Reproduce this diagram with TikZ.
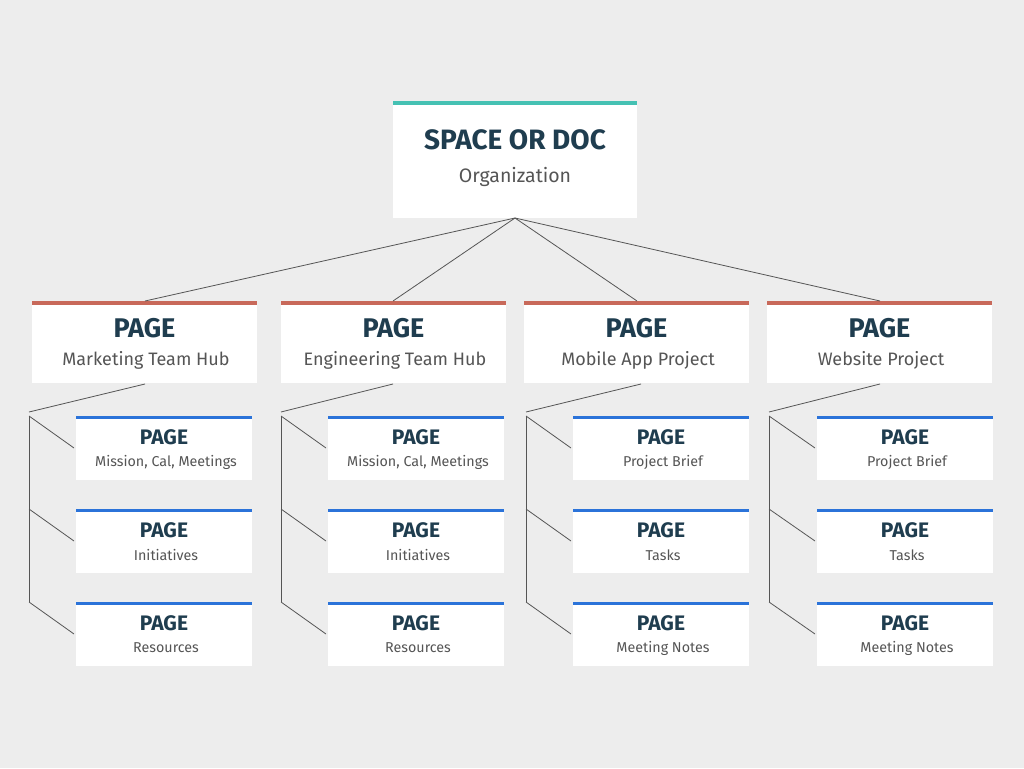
\documentclass[tikz,border=0pt]{standalone}
\usepackage{fontspec}
\setmainfont{Fira Sans}
\definecolor{bg}{HTML}{EDEDED}
\definecolor{teal}{HTML}{45C1B3}
\definecolor{redb}{HTML}{C8695A}
\definecolor{blueb}{HTML}{2B73D9}
\definecolor{ttl}{HTML}{1F3D4F}
\definecolor{sub}{HTML}{555555}
\definecolor{ln}{HTML}{555555}
\begin{document}
\begin{tikzpicture}[x=1pt,y=-1pt,
  conn/.style={draw=ln,line width=0.8pt},
  ttlt/.style={text=ttl,font=\bfseries},
  subt/.style={text=sub}]
\fill[bg] (0,0) rectangle (1024,768);
\useasboundingbox (0,0) rectangle (1024,768);
% top
\fill[white] (393,101) rectangle (637,218);
\fill[teal] (393,101) rectangle (637,105);
\node[ttlt,font=\bfseries\fontsize{28}{32}\selectfont] (toptitle) at (515,140) {SPACE OR DOC};
\node[subt,font=\fontsize{19.5}{22}\selectfont] (topsub) at (515,177) {Organization};
\coordinate (topb) at (515,218);
% mid boxes
\foreach \i/\xl/\cx/\txt in {1/32/145/Marketing Team Hub,2/281/393/Engineering Team Hub,3/524/637/Mobile App Project,4/767/880/Website Project}{
  \fill[white] (\xl,301) rectangle (\xl+225,383);
  \fill[redb] (\xl,301) rectangle (\xl+225,305);
  \node[ttlt,font=\bfseries\fontsize{27}{30}\selectfont] (m\i) at (\xl+112.5,328) {PAGE};
  \node[subt,font=\fontsize{18}{21}\selectfont] (ms\i) at (\xl+114,360) {\txt};
  \coordinate (mt\i) at (\cx,301);
  \draw[conn] (topb) -- (mt\i);
}
% sub connectors and boxes
\foreach \i/\vx/\bx/\px in {1/29/76/145,2/281/328/393,3/526/573/641,4/769/817/880}{
  \coordinate (pb\i) at (\px,384);
  \coordinate (jt\i) at (\vx,412);
  \draw[conn] (pb\i) -- (jt\i);
  \coordinate (v1\i) at (\vx,416);
  \coordinate (v3\i) at (\vx,602);
  \draw[conn] (v1\i) -- (v3\i);
  \foreach \r/\yt in {1/416,2/509,3/602}{
    \fill[white] (\bx,\yt) rectangle (\bx+176,\yt+64);
    \fill[blueb] (\bx,\yt) rectangle (\bx+176,\yt+3);
    \coordinate (s\i\r) at (\bx-2,\yt+32);
    \coordinate (vv\i\r) at (\vx,\yt);
    \draw[conn] (vv\i\r) -- (s\i\r);
  }
}
\tikzset{pg/.style={ttlt,font=\bfseries\fontsize{21}{24}\selectfont},
  ps/.style={subt,font=\fontsize{14.3}{17}\selectfont}}
\foreach \i/\bx/\a/\b/\c in {1/76/{Mission, Cal, Meetings}/Initiatives/Resources,2/328/{Mission, Cal, Meetings}/Initiatives/Resources,3/573/Project Brief/Tasks/Meeting Notes,4/817/Project Brief/Tasks/Meeting Notes}{
  \node[pg] (p\i a) at (\bx+88,437) {PAGE};
  \node[ps] (q\i a) at (\bx+90,462) {\a};
  \node[pg] (p\i b) at (\bx+88,530) {PAGE};
  \node[ps] (q\i b) at (\bx+90,555) {\b};
  \node[pg] (p\i c) at (\bx+88,623) {PAGE};
  \node[ps] (q\i c) at (\bx+90,648) {\c};
}
\end{tikzpicture}
\end{document}
